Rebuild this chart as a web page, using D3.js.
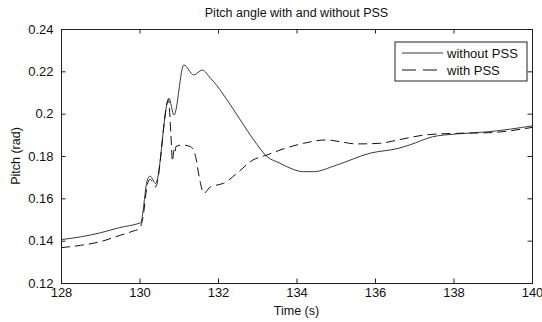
<!DOCTYPE html>
<html>
<head>
<meta charset="utf-8">
<script src="https://cdn.jsdelivr.net/npm/d3@7"></script>
<style>
  body { margin: 0; background: #fff; }
  text { font-family: Arial, 'Liberation Sans', Helvetica, sans-serif; fill: #111; }
</style>
</head>
<body>
<div id="chart"></div>
<script>
// time (s) and pitch (rad)
const timeWithout = [128, 128.5, 129, 129.5, 129.95, 130.03, 130.2, 130.27, 130.41, 130.75, 130.88, 131.13, 131.38, 131.6, 131.81, 131.89, 132.23, 132.57, 132.91, 133.25, 133.58, 133.75, 134.18, 134.43, 135.02, 135.87, 136.59, 136.88, 137.47, 138.07, 138.91, 140]
const pitchWithout = [0.1405, 0.1418, 0.1437, 0.1462, 0.148, 0.1485, 0.1687, 0.1705, 0.167, 0.2073, 0.1994, 0.223, 0.2183, 0.2206, 0.2167, 0.2151, 0.2065, 0.197, 0.1876, 0.1797, 0.1766, 0.175, 0.1726, 0.1726, 0.1757, 0.1813, 0.1836, 0.1852, 0.1891, 0.1904, 0.1915, 0.1942]

const timeWith = [128, 128.5, 129, 129.5, 129.85, 129.98, 130.08, 130.2, 130.27, 130.41, 130.74, 130.8, 130.84, 130.88, 130.9, 130.93, 131.09, 131.3, 131.43, 131.52, 131.64, 131.81, 131.98, 132.14, 132.48, 132.89, 133.25, 133.58, 134.18, 134.77, 135.1, 135.53, 136.12, 136.59, 137.3, 138.07, 138.91, 140]
const pitchWith = [0.1367, 0.1378, 0.1395, 0.1425, 0.1446, 0.1455, 0.150, 0.1665, 0.169, 0.1655, 0.2065, 0.190, 0.1775, 0.183, 0.1815, 0.1845, 0.1852, 0.1844, 0.1797, 0.1702, 0.1624, 0.1655, 0.1663, 0.1671, 0.1718, 0.1781, 0.1805, 0.1828, 0.186, 0.1876, 0.1868, 0.1857, 0.186, 0.1876, 0.19, 0.1907, 0.191, 0.1935]

const xTicks = [128, 130, 132, 134, 136, 138, 140]
const yTicks = [0.12, 0.14, 0.16, 0.18, 0.2, 0.22, 0.24]
const seriesNames = ['without PSS', 'with PSS']

const width = 542
const height = 322
const margin = { top: 29, right: 10, bottom: 39, left: 61 }
const plotW = width - margin.left - margin.right
const plotH = height - margin.top - margin.bottom

const svg = d3.select('#chart')
  .append('svg')
  .attr('width', width)
  .attr('height', height)

const xScale = d3.scaleLinear().domain([128, 140]).range([0, plotW])
const yScale = d3.scaleLinear().domain([0.12, 0.24]).range([plotH, 0])

const g = svg.append('g').attr('transform', `translate(${margin.left}, ${margin.top})`)

const seriesList = [
  { name: seriesNames[0], data: timeWithout.map((t, i) => [t, pitchWithout[i]]), color: '#3a3a3a', dash: null },
  { name: seriesNames[1], data: timeWith.map((t, i) => [t, pitchWith[i]]), color: '#111', dash: '9,5' },
]

const line = d3.line()
  .x(d => xScale(d[0]))
  .y(d => yScale(d[1]))
  .curve(d3.curveMonotoneX)

g.selectAll('path.series')
  .data(seriesList)
  .join('path')
  .attr('class', 'series')
  .attr('d', d => line(d.data))
  .attr('fill', 'none')
  .attr('stroke', d => d.color)
  .attr('stroke-width', 1)
  .attr('stroke-dasharray', d => d.dash)

// axes: ticks point inward on all four sides (box on)
const tickLen = 4.5
const axisColor = '#222'

const xBottom = g.append('g')
  .attr('transform', `translate(0, ${plotH})`)
  .call(d3.axisBottom(xScale).tickValues(xTicks).tickSize(-tickLen).tickPadding(tickLen + 2).tickFormat(d3.format('d')))
const xTop = g.append('g')
  .call(d3.axisTop(xScale).tickValues(xTicks).tickSize(-tickLen).tickFormat(''))
const yLeft = g.append('g')
  .call(d3.axisLeft(yScale).tickValues(yTicks).tickSize(-tickLen).tickPadding(tickLen + 3).tickFormat(d3.format('')))
const yRight = g.append('g')
  .attr('transform', `translate(${plotW}, 0)`)
  .call(d3.axisRight(yScale).tickValues(yTicks).tickSize(-tickLen).tickFormat(''))

;[xBottom, xTop, yLeft, yRight].forEach(a => {
  a.select('.domain').attr('stroke', axisColor)
  a.selectAll('.tick line').attr('stroke', axisColor)
  a.selectAll('.tick text')
    .attr('font-size', 13)
    .attr('font-family', 'Arial, Liberation Sans, sans-serif')
    .attr('fill', '#111')
})
xBottom.selectAll('.tick text').attr('dy', '0.6em')

// titles
svg.append('text')
  .attr('x', margin.left + plotW / 2)
  .attr('y', 17)
  .attr('text-anchor', 'middle')
  .attr('font-size', 12.5)
  .text('Pitch angle with and without PSS')

svg.append('text')
  .attr('x', margin.left + plotW / 2)
  .attr('y', 315)
  .attr('text-anchor', 'middle')
  .attr('font-size', 12.5)
  .text('Time (s)')

svg.append('text')
  .attr('transform', `translate(20, ${margin.top + plotH / 2}) rotate(-90)`)
  .attr('text-anchor', 'middle')
  .attr('font-size', 12.5)
  .text('Pitch (rad)')

// legend
const legend = svg.append('g').attr('transform', 'translate(395, 42)')
legend.append('rect')
  .attr('width', 132)
  .attr('height', 39)
  .attr('fill', '#fff')
  .attr('stroke', axisColor)

const legendRows = legend.selectAll('g.row')
  .data(seriesList)
  .join('g')
  .attr('class', 'row')
  .attr('transform', (d, i) => `translate(0, ${11 + i * 17})`)

legendRows.append('line')
  .attr('x1', 7)
  .attr('x2', 48)
  .attr('stroke', d => d.color)
  .attr('stroke-dasharray', d => (d.dash ? '14,7' : null))

legendRows.append('text')
  .attr('x', 52)
  .attr('dy', '0.35em')
  .attr('font-size', 13)
  .text(d => d.name)
</script>
</body>
</html>
